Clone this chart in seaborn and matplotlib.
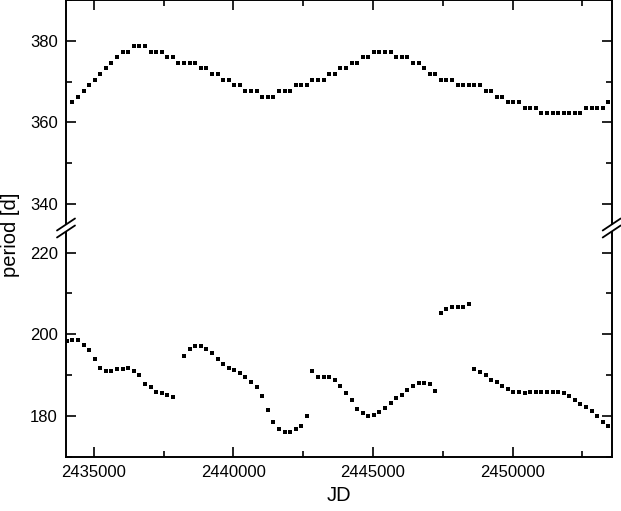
"""Period vs JD with a broken y axis (two period branches)."""
import numpy as np
import pandas as pd
import matplotlib
matplotlib.use("Agg")
import matplotlib.pyplot as plt
from matplotlib.lines import Line2D
from matplotlib.ticker import MultipleLocator
import seaborn as sns

# sampling grid: one period estimate every 200 d
JD_START = 2434030
JD_STEP = 200
N_POINTS = 98

# long-period branch (grid index 1..97)
upper_period = [
    365.1, 366.3, 367.7, 369.1, 370.5, 371.9, 373.3, 374.6, 376.0, 377.4,
    377.4, 378.8, 378.8, 378.8, 377.4, 377.4, 377.4, 376.0, 376.0, 374.6,
    374.6, 374.6, 374.6, 373.3, 373.3, 371.9, 371.9, 370.5, 370.5, 369.1,
    369.1, 367.7, 367.7, 367.7, 366.3, 366.3, 366.3, 367.7, 367.7, 367.7,
    369.1, 369.1, 369.1, 370.5, 370.5, 370.5, 371.9, 371.9, 373.3, 373.3,
    374.6, 374.6, 376.0, 376.0, 377.4, 377.4, 377.4, 377.4, 376.0, 376.0,
    376.0, 374.6, 374.6, 373.3, 371.9, 371.9, 370.5, 370.5, 370.5, 369.1,
    369.1, 369.1, 369.1, 369.1, 367.7, 367.7, 366.3, 366.3, 365.0, 365.0,
    365.0, 363.6, 363.6, 363.6, 362.4, 362.4, 362.4, 362.4, 362.4, 362.4,
    362.4, 362.4, 363.6, 363.6, 363.6, 363.6, 365.0,
]

# short-period branch (grid index 0..97, gap at index 20)
lower_period = [
    198.3, 198.5, 198.5, 197.3, 196.2, 193.9, 191.6, 190.9, 190.9, 191.4,
    191.4, 191.6, 190.9, 189.9, 187.9, 187.0, 185.8, 185.6, 185.2, 184.6,
    np.nan,
    194.6, 196.4, 197.2, 197.2, 196.4, 195.3, 193.9, 192.7, 191.8, 191.2,
    190.5, 189.5, 188.3, 187.0, 184.9, 181.5, 178.6, 176.7, 176.1, 176.1,
    176.7, 177.6, 180.0,
    190.9, 189.4, 189.4, 189.4, 188.7, 187.3, 185.6, 183.9, 181.8, 180.7,
    179.9, 180.2, 180.9, 181.9, 183.2, 184.3, 185.2, 186.3, 187.3, 188.1,
    188.1, 187.7, 186.0,
    205.3, 206.1, 206.7, 206.7, 206.7, 207.5,
    191.4, 190.7, 190.0, 188.9, 188.2, 187.4, 186.6, 185.8, 185.8, 185.5,
    185.8, 185.8, 185.8, 185.8, 185.8, 185.8, 185.5, 184.8, 184.0, 183.0,
    182.2, 181.2, 179.9, 178.6, 177.5,
]

jd = JD_START + JD_STEP * np.arange(N_POINTS)
df_up = pd.DataFrame({"JD": jd[1:], "period": upper_period})
df_lo = pd.DataFrame({"JD": jd, "period": lower_period}).dropna()

sns.set_style("ticks")
plt.rcParams["font.family"] = ["Liberation Sans", "DejaVu Sans"]
plt.rcParams["text.color"] = "black"

W, H = 621, 511
fig = plt.figure(figsize=(W / 100, H / 100), dpi=100)
left, right = 66 / W, 611.7 / W
y_axis_bottom = 1 - 456.7 / H
y_break = 1 - 228 / H
y_top = 1 - 0.5 / H
ax_top = fig.add_axes([left, y_break, right - left, y_top - y_break])
ax_bot = fig.add_axes([left, y_axis_bottom, right - left, y_break - y_axis_bottom])

for ax, df in [(ax_top, df_up), (ax_bot, df_lo)]:
    sns.scatterplot(data=df, x="JD", y="period", ax=ax, marker="s", color="black",
                    s=10, linewidth=0, legend=False)
    ax.set_xlim(2434000, 2453550)
    ax.xaxis.set_major_locator(MultipleLocator(5000))
    ax.xaxis.set_minor_locator(MultipleLocator(2500))
    ax.yaxis.set_major_locator(MultipleLocator(20))
    ax.yaxis.set_minor_locator(MultipleLocator(10))
    ax.tick_params(which="both", direction="in", left=True, right=True,
                   width=1.2, labelsize=12, pad=6, color="black", labelcolor="black")
    ax.tick_params(which="major", length=7)
    ax.tick_params(which="minor", length=4)
    ax.set_xlabel("")
    ax.set_ylabel("")
    for sp in ax.spines.values():
        sp.set_linewidth(1.4)
        sp.set_color("black")

ax_top.set_ylim(334, 390)
ax_bot.set_ylim(170, 226)
ax_top.spines["bottom"].set_visible(False)
ax_bot.spines["top"].set_visible(False)
ax_top.tick_params(which="both", bottom=False, top=True, labelbottom=False)
ax_bot.tick_params(which="both", bottom=True, top=False)
ax_bot.ticklabel_format(axis="x", useOffset=False, style="plain")

# gap in the side spines at the break
for side in ("left", "right"):
    ax_top.spines[side].set_bounds(334.9, 390)
    ax_bot.spines[side].set_bounds(170, 225.1)

# double-slash break marks
yb = H - 228
for xp in (66, 611.7):
    for dy in (-3.5, 3.5):
        fig.add_artist(Line2D([(xp - 9) / W, (xp + 9) / W],
                              [(yb + dy - 6) / H, (yb + dy + 6) / H],
                              transform=fig.transFigure, color="black", lw=1.3))

fig.text(10 / W, 1 - 235 / H, "period [d]", rotation=90, ha="center", va="center",
         fontsize=14.5)
fig.text(339 / W, 1 - 495 / H, "JD", ha="center", va="center", fontsize=14.5)

fig.savefig("out.png", dpi=100)
plt.close(fig)
